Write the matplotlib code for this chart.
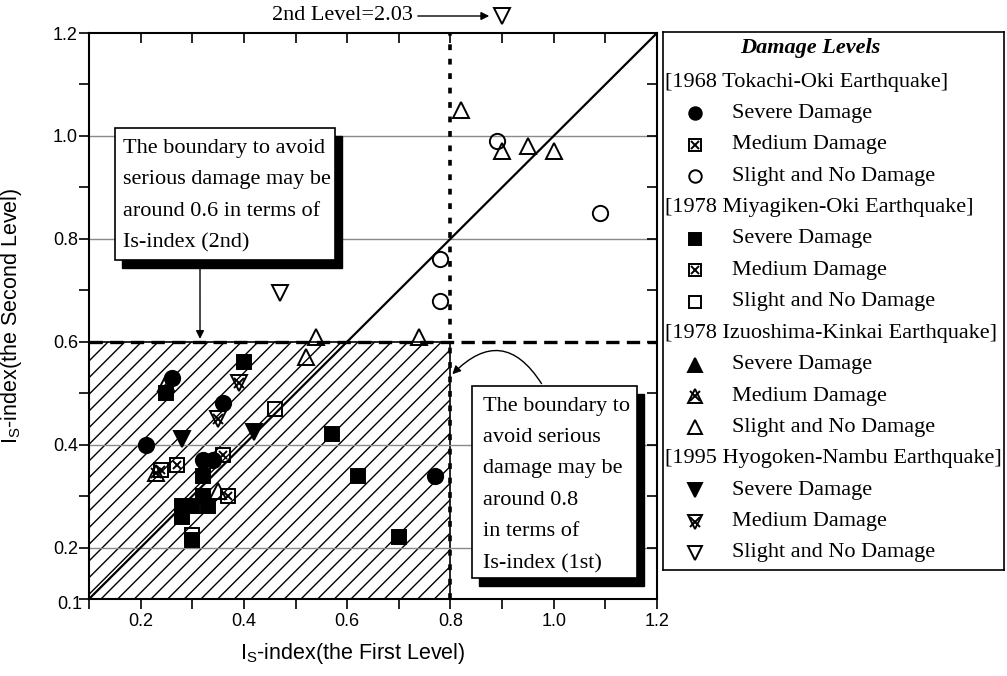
import matplotlib
matplotlib.use('Agg')
import matplotlib.pyplot as plt
from matplotlib.patches import Rectangle, FancyArrowPatch
import matplotlib.transforms as mtransforms

# ---------------- data ----------------
tokachi_severe_x = [0.21, 0.26, 0.36, 0.32, 0.34, 0.77]
tokachi_severe_y = [0.40, 0.53, 0.48, 0.37, 0.37, 0.34]
tokachi_medium_x = [0.36]
tokachi_medium_y = [0.38]
tokachi_slight_x = [0.89, 1.09, 0.78, 0.78]
tokachi_slight_y = [0.99, 0.85, 0.76, 0.68]

miyagi_severe_x = [0.25, 0.40, 0.32, 0.28, 0.28, 0.33, 0.32, 0.30, 0.30, 0.57, 0.62, 0.70]
miyagi_severe_y = [0.50, 0.56, 0.34, 0.28, 0.26, 0.28, 0.30, 0.28, 0.215, 0.42, 0.34, 0.22]
miyagi_medium_x = [0.24, 0.27, 0.37]
miyagi_medium_y = [0.35, 0.36, 0.30]
miyagi_slight_x = [0.46, 0.30]
miyagi_slight_y = [0.47, 0.225]

izu_severe_x = []
izu_severe_y = []
izu_medium_x = [0.23]
izu_medium_y = [0.345]
izu_slight_x = [0.25, 0.35, 0.52, 0.54, 0.74, 0.82, 0.90, 0.95, 1.00]
izu_slight_y = [0.52, 0.31, 0.57, 0.61, 0.61, 1.05, 0.97, 0.98, 0.97]

hyogo_severe_x = [0.28, 0.42]
hyogo_severe_y = [0.41, 0.425]
hyogo_medium_x = [0.39, 0.35]
hyogo_medium_y = [0.52, 0.45]
hyogo_slight_x = [0.47]
hyogo_slight_y = [0.695]
hyogo_offscale_x = 0.90
hyogo_offscale_y = 2.03

grid_y = [0.2, 0.4, 0.8, 1.0]
boundary_1st = 0.8
boundary_2nd = 0.6
x_ticklabels = ['0.2', '0.4', '0.6', '0.8', '1.0', '1.2']
y_ticklabels = ['0.2', '0.4', '0.6', '0.8', '1.0', '1.2']

legend_groups = ['[1968 Tokachi-Oki Earthquake]', '[1978 Miyagiken-Oki Earthquake]',
                 '[1978 Izuoshima-Kinkai Earthquake]', '[1995 Hyogoken-Nambu Earthquake]']
damage_labels = ['Severe Damage', 'Medium Damage', 'Slight and No Damage']

box1_lines = ['The boundary to avoid', 'serious damage may be',
              'around 0.6 in terms of', 'Is-index (2nd)']
box2_lines = ['The boundary to', 'avoid serious', 'damage may be',
              'around 0.8', 'in terms of', 'Is-index (1st)']

# ---------------- style ----------------
plt.rcParams['font.family'] = 'Liberation Sans'
plt.rcParams['mathtext.fontset'] = 'custom'
plt.rcParams['mathtext.rm'] = 'Liberation Sans'
plt.rcParams['mathtext.it'] = 'Liberation Sans:italic'
plt.rcParams['hatch.linewidth'] = 1.0
SERIF = 'Liberation Serif'
SERIF_SIZE = 16

W, H = 1007, 676
fig = plt.figure(figsize=(W / 100, H / 100), dpi=100)


def fx(px):
    return px / W


def fy(py):
    return 1 - py / H


ax = fig.add_axes([fx(89), fy(599), (657 - 89) / W, (599 - 33) / H])
ax.set_xlim(0.1, 1.2)
ax.set_ylim(0.1, 1.2)

ax.set_xticks([0.2, 0.4, 0.6, 0.8, 1.0, 1.2])
ax.set_xticklabels(x_ticklabels)
ax.set_yticks([0.2, 0.4, 0.6, 0.8, 1.0, 1.2])
ax.set_yticklabels(y_ticklabels)
ax.set_xticks([0.1, 0.3, 0.5, 0.7, 0.9, 1.1], minor=True)
ax.set_yticks([0.1, 0.3, 0.5, 0.7, 0.9, 1.1], minor=True)
for which in ('major', 'minor'):
    ax.tick_params(axis='x', which=which, bottom=True, top=False, direction='out',
                   length=7, width=1.2, labelsize=13, pad=3)
    ax.tick_params(axis='y', which=which, left=True, right=False, direction='out',
                   length=7, width=1.2, labelsize=13, pad=1)
for sp in ax.spines.values():
    sp.set_linewidth(1.5)

# inward ticks on top/right
ax2 = ax.twiny()
ax2.set_xlim(0.1, 1.2)
ax2.set_xticks([0.2, 0.3, 0.4, 0.5, 0.6, 0.7, 0.8, 0.9, 1.0, 1.1])
ax2.tick_params(axis='x', direction='in', length=7, width=1.2, labeltop=False)
ax3 = ax.twinx()
ax3.set_ylim(0.1, 1.2)
ax3.set_yticks([0.2, 0.3, 0.4, 0.5, 0.6, 0.7, 0.8, 0.9, 1.0, 1.1])
ax3.tick_params(axis='y', direction='in', length=7, width=1.2, labelright=False)
for a in (ax2, ax3):
    for sp in a.spines.values():
        sp.set_visible(False)

# grid
for g in grid_y:
    ax.axhline(g, color='#8a8a8a', lw=1.0, zorder=2)

# hatched region
ax.add_patch(Rectangle((0.1, 0.1), boundary_1st - 0.1, boundary_2nd - 0.1,
                       facecolor='white', edgecolor='black', hatch='//', lw=1.2, zorder=1))

# boundary lines
ax.plot([0.1, 1.2], [0.1, 1.2], color='black', lw=1.6, zorder=3)
ax.plot([boundary_1st, boundary_1st], [0.1, 1.2], color='black', lw=2.6,
        linestyle=(0, (1.6, 2.4)), zorder=3)
ax.plot([0.1, 1.2], [boundary_2nd, boundary_2nd], color='black', lw=2.4,
        linestyle=(0, (4.0, 2.2)), zorder=3)


def pts(x, y, marker, filled, cross=False, ms=10.5, axis=ax, cross_ms=None):
    axis.plot(x, y, ls='none', marker=marker, ms=ms,
              mfc='black' if filled else 'none', mec='black', mew=1.4, zorder=5,
              clip_on=False)
    if cross:
        axis.plot(x, y, ls='none', marker='x', ms=cross_ms or ms * 0.62, mec='black',
                  mew=1.4, zorder=6, clip_on=False)


pts(tokachi_severe_x, tokachi_severe_y, 'o', True, ms=11)
pts(tokachi_medium_x, tokachi_medium_y, 's', False, cross=True, ms=10)
pts(tokachi_slight_x, tokachi_slight_y, 'o', False, ms=11)
pts(miyagi_severe_x, miyagi_severe_y, 's', True, ms=10)
pts(miyagi_medium_x, miyagi_medium_y, 's', False, cross=True, ms=10)
pts(miyagi_slight_x, miyagi_slight_y, 's', False, ms=10)
if izu_severe_x:
    pts(izu_severe_x, izu_severe_y, '^', True, ms=12)
pts(izu_medium_x, izu_medium_y, '^', False, cross=True, ms=12)
pts(izu_slight_x, izu_slight_y, '^', False, ms=12)
pts(hyogo_severe_x, hyogo_severe_y, 'v', True, ms=12)
pts(hyogo_medium_x, hyogo_medium_y, 'v', False, cross=True, ms=12)
pts(hyogo_slight_x, hyogo_slight_y, 'v', False, ms=12)

# off-scale point marker above the axes
blend = mtransforms.blended_transform_factory(ax.transData, ax.transAxes)
ax.plot([hyogo_offscale_x], [1.03], ls='none', marker='v', ms=12, mfc='none',
        mec='black', mew=1.4, transform=blend, clip_on=False)
fig.text(fx(272), fy(16), '2nd Level=%.2f' % hyogo_offscale_y, family=SERIF,
         fontsize=SERIF_SIZE, ha='left', va='center')
fig.add_artist(FancyArrowPatch((fx(415), fy(16)), (fx(492), fy(16)),
                               transform=fig.transFigure, arrowstyle='-|>',
                               mutation_scale=12, color='black', lw=1))

# axis labels
ax.set_xlabel(r'I$_{\mathregular{S}}$-index(the First Level)', fontsize=15.5)
ax.set_ylabel(r'I$_{\mathregular{S}}$-index(the Second Level)', fontsize=15.5)
ax.xaxis.set_label_coords(0.465, -0.075)
ax.yaxis.set_label_coords(-0.115, 0.5)
ax.text(-0.012, -0.01, '0.1', transform=ax.transAxes, ha='right', va='center', fontsize=13)


# annotation boxes
def note_box(x0, y0, x1, y1, lines, tx, ty, spacing):
    fig.add_artist(Rectangle((fx(x0 + 7), fy(y1 + 8)), (x1 - x0) / W, (y1 - y0) / H,
                             transform=fig.transFigure, facecolor='black',
                             edgecolor='black', zorder=8))
    fig.add_artist(Rectangle((fx(x0), fy(y1)), (x1 - x0) / W, (y1 - y0) / H,
                             transform=fig.transFigure, facecolor='white',
                             edgecolor='black', lw=1.2, zorder=9))
    for i, line in enumerate(lines):
        fig.text(fx(tx), fy(ty + i * spacing), line, family=SERIF, fontsize=SERIF_SIZE,
                 ha='left', va='center', zorder=10)


note_box(115, 128, 335, 260, box1_lines, 123, 148, 31.5)
note_box(472, 386, 637, 578, box2_lines, 483, 406, 31.5)

ax.annotate('', xy=(0.315, boundary_2nd), xycoords='data',
            xytext=(fx(200), fy(260)), textcoords='figure fraction',
            arrowprops=dict(arrowstyle='-|>', color='black', lw=1, mutation_scale=12),
            zorder=7)
ax.annotate('', xy=(boundary_1st, 0.533), xycoords='data',
            xytext=(fx(543), fy(386)), textcoords='figure fraction',
            arrowprops=dict(arrowstyle='-|>', color='black', lw=1, mutation_scale=12,
                            connectionstyle='arc3,rad=0.65'),
            zorder=7)

# ---------------- legend ----------------
lx0, ly0, lx1, ly1 = 663, 32, 1004, 570
lax = fig.add_axes([fx(lx0), fy(ly1), (lx1 - lx0) / W, (ly1 - ly0) / H])
lax.set_xlim(lx0, lx1)
lax.set_ylim(ly1, ly0)
lax.set_xticks([])
lax.set_yticks([])
for sp in lax.spines.values():
    sp.set_linewidth(1.2)

lax.text(810, 48, 'Damage Levels', family=SERIF, fontsize=SERIF_SIZE, weight='bold',
         style='italic', ha='center', va='center')
legend_markers = [
    [('o', True, False), ('s', False, True), ('o', False, False)],
    [('s', True, False), ('s', False, True), ('s', False, False)],
    [('^', True, False), ('^', False, True), ('^', False, False)],
    [('v', True, False), ('v', False, True), ('v', False, False)],
]
row = 0
y_first, dy = 82, 31.4
for g, group in enumerate(legend_groups):
    yy = y_first + row * dy
    lax.text(665, yy, group, family=SERIF, fontsize=SERIF_SIZE, ha='left', va='center')
    row += 1
    for k, lab in enumerate(damage_labels):
        yy = y_first + row * dy
        m, filled, cross = legend_markers[g][k]
        msz = 10.5 if m in '^v' else 9
        pts([695], [yy], m, filled, cross=cross, ms=msz, axis=lax)
        lax.text(732, yy, lab, family=SERIF, fontsize=SERIF_SIZE, ha='left', va='center')
        row += 1

fig.savefig('out.png', dpi=100)
